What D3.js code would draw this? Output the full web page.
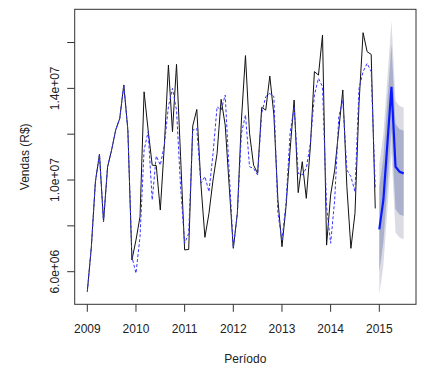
<!DOCTYPE html>
<html>
<head>
<meta charset="utf-8">
<script src="https://cdn.jsdelivr.net/npm/d3@7"></script>
<style>
  html, body { margin: 0; padding: 0; background: #fff; }
  svg { display: block; font-family: "Liberation Sans", Arial, sans-serif; }
</style>
</head>
<body>
<div id="chart"></div>
<script>
// monthly sales, R$ millions
const startYear = 2009;
const observed = [
  5.13, 7.09, 9.93, 11.13, 8.18, 10.58, 11.31, 12.18, 12.69, 14.15, 12.18, 6.51,
  7.38, 8.40, 13.85, 12.18, 10.65, 10.63, 8.69, 11.53, 15.02, 12.11, 15.05, 11.02,
  6.95, 6.97, 12.36, 13.08, 9.85, 7.50, 8.55, 10.00, 11.16, 13.52, 12.40, 9.71,
  7.02, 8.55, 12.62, 15.43, 12.04, 10.65, 10.29, 13.17, 13.05, 14.54, 12.84, 9.13,
  7.09, 8.84, 11.31, 13.49, 9.45, 10.80, 9.20, 11.45, 14.73, 14.58, 16.33, 7.16,
  9.35, 10.44, 12.18, 13.93, 9.71, 7.02, 8.55, 13.35, 16.43, 15.60, 15.48, 8.76
];
const fitted = [
  5.13, 7.09, 9.93, 11.13, 8.18, 10.58, 11.31, 12.18, 12.69, 14.15, 12.18, 6.65,
  5.93, 7.53, 11.31, 12.11, 9.13, 11.05, 10.65, 11.53, 13.20, 14.00, 13.05, 9.71,
  7.24, 7.67, 12.18, 12.25, 9.85, 10.15, 9.49, 11.16, 13.20, 13.05, 13.71, 10.29,
  7.02, 8.55, 12.04, 12.84, 10.58, 10.51, 10.22, 12.91, 13.64, 13.78, 13.64, 8.55,
  7.38, 8.98, 12.04, 13.20, 10.29, 10.22, 10.51, 11.60, 13.71, 14.44, 14.07, 8.84,
  7.24, 9.13, 12.76, 13.49, 10.44, 10.15, 9.49, 14.00, 14.73, 15.09, 14.73, 9.64
];
const forecastStart = 2015;
const forecast = [7.85, 9.13, 11.60, 14.07, 10.58, 10.36, 10.29];
const lo80 = [5.99, 7.27, 9.74, 12.21, 8.72, 8.50, 8.43];
const hi80 = [9.71, 10.99, 13.46, 15.93, 12.44, 12.22, 12.15];
const lo95 = [5.00, 6.26, 8.73, 11.20, 7.71, 7.49, 7.42];
const hi95 = [10.70, 12.00, 14.47, 16.94, 13.45, 13.23, 13.16];

const xTicks = [2009, 2010, 2011, 2012, 2013, 2014, 2015];
const yTicks = [6, 8, 10, 12, 14, 16];
const yTickLabels = { 6: "6.0e+06", 10: "1.0e+07", 14: "1.4e+07" };

const W = 431, H = 371;
const plot = { left: 74.7, right: 416, top: 9.3, bottom: 304.3 };

const svg = d3.select('#chart').append('svg')
  .attr('width', W).attr('height', H);

const x = d3.scaleLinear().domain([2008.741, 2015.754]).range([plot.left, plot.right]);
const y = d3.scaleLinear().domain([4.577, 17.45]).range([plot.bottom, plot.top]);

const obs = observed.map((v, i) => ({ t: startYear + i / 12, v }));
const fit = fitted.map((v, i) => ({ t: startYear + i / 12, v }));
const fc = forecast.map((v, i) => ({
  t: forecastStart + i / 12, v, lo80: lo80[i], hi80: hi80[i], lo95: lo95[i], hi95: hi95[i]
}));

// prediction bands
const area95 = d3.area().x(d => x(d.t)).y0(d => y(d.lo95)).y1(d => y(d.hi95));
const area80 = d3.area().x(d => x(d.t)).y0(d => y(d.lo80)).y1(d => y(d.hi80));
svg.append('path').datum(fc).attr('d', area95).attr('fill', '#dadbe3');
svg.append('path').datum(fc).attr('d', area80).attr('fill', '#abb1cc');

const line = d3.line().x(d => x(d.t)).y(d => y(d.v));

svg.append('path').datum(obs)
  .attr('d', line).attr('fill', 'none')
  .attr('stroke', '#111').attr('stroke-width', 1);

svg.append('path').datum(fit)
  .attr('d', line).attr('fill', 'none')
  .attr('stroke', '#3535ff').attr('stroke-width', 1)
  .attr('stroke-dasharray', '3,2');

svg.append('path').datum(fc)
  .attr('d', line).attr('fill', 'none')
  .attr('stroke', '#0a1aff').attr('stroke-width', 2.2);

// box
svg.append('rect')
  .attr('x', plot.left).attr('y', plot.top)
  .attr('width', plot.right - plot.left).attr('height', plot.bottom - plot.top)
  .attr('fill', 'none').attr('stroke', '#333').attr('stroke-width', 1);

// x axis
const xAxis = svg.append('g');
xAxis.selectAll('line').data(xTicks).enter().append('line')
  .attr('x1', d => x(d)).attr('x2', d => x(d))
  .attr('y1', plot.bottom).attr('y2', plot.bottom + 7.5)
  .attr('stroke', '#333');
xAxis.selectAll('text').data(xTicks).enter().append('text')
  .attr('x', d => x(d)).attr('y', 332.5)
  .attr('text-anchor', 'middle').attr('font-size', 12).attr('fill', '#222')
  .text(d => d);

// y axis
const yAxis = svg.append('g');
yAxis.selectAll('line').data(yTicks).enter().append('line')
  .attr('x1', plot.left - 7.5).attr('x2', plot.left)
  .attr('y1', d => y(d)).attr('y2', d => y(d))
  .attr('stroke', '#333');
yAxis.selectAll('text').data(yTicks.filter(d => yTickLabels[d])).enter().append('text')
  .attr('transform', d => `translate(58.5,${y(d)}) rotate(-90)`)
  .attr('text-anchor', 'middle').attr('font-size', 12).attr('fill', '#222')
  .text(d => yTickLabels[d]);

// titles
svg.append('text')
  .attr('x', (plot.left + plot.right) / 2).attr('y', 362.5)
  .attr('text-anchor', 'middle').attr('font-size', 12).attr('fill', '#222')
  .text('Período');
svg.append('text')
  .attr('transform', `translate(28.5,${(plot.top + plot.bottom) / 2}) rotate(-90)`)
  .attr('text-anchor', 'middle').attr('font-size', 12).attr('fill', '#222')
  .text('Vendas (R$)');
</script>
</body>
</html>
